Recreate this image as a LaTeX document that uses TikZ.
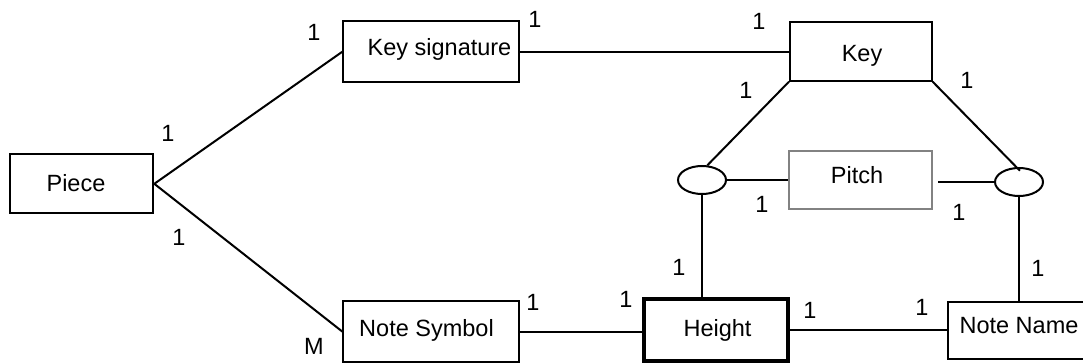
\documentclass[tikz,border=0pt]{standalone}
\usepackage{fontspec}
\setmainfont{Liberation Sans}
\usetikzlibrary{shapes.geometric}
\definecolor{pitchgray}{RGB}{130,130,130}
\begin{document}
\begin{tikzpicture}[x=1pt,y=-1pt,
  every node/.style={font=\fontsize{23.5}{28}\selectfont},
  entity/.style={draw, rectangle, line width=2pt, inner sep=0pt},
  weak/.style={entity, draw=pitchgray},
  strong/.style={entity, line width=4.2pt},
  rel/.style={draw, ellipse, line width=2pt, inner sep=0pt,
              minimum width=48pt, minimum height=28pt},
  txt/.style={anchor=base, inner sep=0pt},
  card/.style={anchor=base, inner sep=0pt},
  link/.style={line width=2pt}]
\clip (0,0) rectangle (1083,363);

% entity boxes
\node[entity, minimum width=143pt, minimum height=59pt] (piece) at (81.8,183.8) {};
\node[entity, minimum width=175.7pt, minimum height=61.5pt] (keysig) at (431.2,51.7) {};
\node[entity, minimum width=141.7pt, minimum height=59pt] (key) at (860.8,51.2) {};
\node[weak, minimum width=143pt, minimum height=58pt] (pitch) at (860.5,180) {};
\node[entity, minimum width=175.7pt, minimum height=61.4pt] (notesym) at (431.3,331.7) {};
\node[strong, minimum width=144.3pt, minimum height=61.3pt] (height) at (715.9,330) {};
\node[entity, minimum width=142.6pt, minimum height=57.3pt] (notename) at (1019,330.3) {};

% relationship ellipses
\node[rel] (relL) at (702,180) {};
\node[rel] (relR) at (1019,182) {};

% entity names
\node[txt] (piece-t) at (76,192) {Piece};
\node[txt] (keysig-t) at (439.5,56) {Key signature};
\node[txt] (key-t) at (862,61.5) {Key};
\node[txt] (pitch-t) at (857,184) {Pitch};
\node[txt] (notesym-t) at (426.5,336) {Note Symbol};
\node[txt] (height-t) at (717.5,336) {Height};
\node[txt] (notename-t) at (1019,333) {Note Name};

% connectors
\draw[link] (piece.east) -- (keysig.west);
\draw[link] (piece.east) -- (notesym.west);
\draw[link] (keysig.east) -- (keysig.east -| key.west);
\draw[link] (key.south west) -- (relL.70);
\draw[link, shorten >=-5pt] (key.south east) -- (relR.100);
\draw[link] (relL.east) -- (relL.east -| pitch.west);
\draw[link, shorten <=5pt] (relR.west -| pitch.east) -- (relR.west);
\draw[link] (relL.south) -- (relL.south |- height.north);
\draw[link] (relR.south) -- (relR.south |- notename.north);
\draw[link] (notesym.east) -- (notesym.east -| height.west);
\draw[link] (height.east |- notename.west) -- (notename.west);

% cardinalities
\node[card] (c1)  at (168,141.4) {1};
\node[card] (c2)  at (179,245.4) {1};
\node[card] (c3)  at (314,40.4) {1};
\node[card] (c4)  at (535,27.4) {1};
\node[card] (c5)  at (759,30) {1};
\node[card] (c6)  at (746,99) {1};
\node[card] (c7)  at (967,88.4) {1};
\node[card] (c8)  at (762,213) {1};
\node[card] (c9)  at (959,221) {1};
\node[card] (c10) at (679,275.5) {1};
\node[card] (c11) at (1038,276.5) {1};
\node[card] (c12) at (533,310) {1};
\node[card] (c13) at (626,307.5) {1};
\node[card] (c14) at (810,318) {1};
\node[card] (c15) at (922,315) {1};
\node[card] (cM)  at (314,354) {M};
\end{tikzpicture}
\end{document}
